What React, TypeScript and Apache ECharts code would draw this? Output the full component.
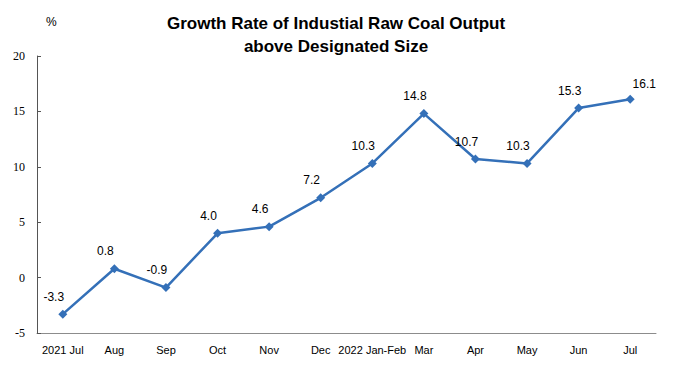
import React, { useEffect, useRef } from "react";
import * as echarts from "echarts";

const categories = ["2021 Jul", "Aug", "Sep", "Oct", "Nov", "Dec", "2022 Jan-Feb", "Mar", "Apr", "May", "Jun", "Jul"];
const growthRate = [-3.3, 0.8, -0.9, 4.0, 4.6, 7.2, 10.3, 14.8, 10.7, 10.3, 15.3, 16.1];
const yTicks = { min: -5, max: 20, interval: 5 };
const titleLines = ["Growth Rate of Industial Raw Coal Output", "above Designated Size"];
const unitLabel = "%";

const SANS = "'Liberation Sans', Arial, sans-serif";
const SERIF = "'Liberation Serif', 'Times New Roman', serif";

export default function App() {
  const ref = useRef<HTMLDivElement>(null);
  useEffect(() => {
    document.body.style.margin = "0";
    if (!ref.current) return;
    const chart = echarts.init(ref.current, null, { renderer: "svg" });
    const lastIdx = growthRate.length - 1;
    chart.setOption({
      animation: false,
      backgroundColor: "#ffffff",
      title: {
        text: titleLines.join("\n"),
        left: 331,
        top: 7,
        textAlign: "center",
        textStyle: {
          fontFamily: SANS,
          fontWeight: "bold",
          fontSize: 17,
          lineHeight: 23,
          color: "#000000",
        },
      },
      graphic: [
        {
          type: "text",
          x: 46,
          y: 16,
          style: {
            text: unitLabel,
            fontFamily: SANS,
            fontSize: 12,
            fill: "#000000",
          },
        },
      ],
      grid: { left: 37, right: 17, top: 56, bottom: 40, containLabel: false },
      xAxis: {
        type: "category",
        data: categories,
        boundaryGap: true,
        axisLine: { onZero: false, lineStyle: { color: "#8c8c8c", width: 1 } },
        axisTick: { inside: true, length: 4, lineStyle: { color: "#8c8c8c" } },
        axisLabel: {
          interval: 0,
          margin: 11,
          color: "#000000",
          fontFamily: SANS,
          fontSize: 11,
        },
        splitLine: { show: false },
      },
      yAxis: {
        type: "value",
        min: yTicks.min,
        max: yTicks.max,
        interval: yTicks.interval,
        axisLine: { show: true, lineStyle: { color: "#555555", width: 1 } },
        axisTick: { show: true, inside: true, length: 4, lineStyle: { color: "#555555" } },
        axisLabel: {
          margin: 12,
          color: "#000000",
          fontFamily: SERIF,
          fontSize: 12,
        },
        splitLine: { show: false },
      },
      series: [
        {
          type: "line",
          data: growthRate.map((v, i) => ({
            value: v,
            label: i === lastIdx ? { offset: [14, 0] } : undefined,
          })),
          symbol: "diamond",
          symbolSize: 9,
          lineStyle: { color: "#3470b8", width: 2.5 },
          itemStyle: { color: "#3470b8" },
          label: {
            show: true,
            position: "top",
            offset: [-9, -2],
            formatter: (p: any) => Number(p.value).toFixed(1),
            color: "#000000",
            fontFamily: SANS,
            fontSize: 12,
          },
        },
      ],
    });
    return () => chart.dispose();
  }, []);
  return <div ref={ref} style={{ width: 673, height: 373 }} />;
}
